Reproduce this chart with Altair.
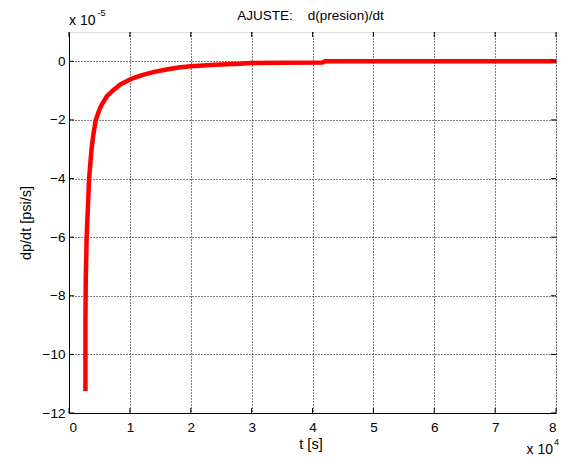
import altair as alt
import pandas as pd

# data in axis units: t in x10^4 s, dp/dt in x10^-5 psi/s
t_vals = [0.27, 0.27, 0.275, 0.28, 0.29, 0.31, 0.33, 0.37, 0.40, 0.44, 0.50, 0.54, 0.62, 0.72,
          0.85, 1.0, 1.2, 1.4, 1.6, 1.8, 2.0, 2.4, 2.8, 3.0, 3.5, 4.17, 4.2, 5.0, 6.0, 7.0, 8.0]
dp_vals = [-11.25, -9.0, -7.5, -7.0, -6.0, -5.0, -4.0, -3.0, -2.5, -2.0, -1.65, -1.47, -1.2, -1.0,
           -0.78, -0.62, -0.47, -0.36, -0.28, -0.21, -0.17, -0.12, -0.08, -0.06, -0.045, -0.04, 0.0, 0.0, 0.0, 0.0, 0.0]
x_ticks = [0, 1, 2, 3, 4, 5, 6, 7, 8]
y_ticks = [-12, -10, -8, -6, -4, -2, 0]

W, H = 487, 381
FONT = "Liberation Sans"

df = pd.DataFrame({"t": t_vals, "dp": dp_vals, "i": list(range(len(t_vals)))})
xs = alt.Scale(domain=[0, 8], nice=False, zero=False)
ys = alt.Scale(domain=[-12, 1], nice=False, zero=False)

common_axis = dict(grid=True, gridDash=[1, 2], gridColor="#000000", gridOpacity=1, gridWidth=1,
                   ticks=False, labelFontSize=13.5, labelFont=FONT, labelColor="#000000",
                   domainColor="#000000", title=None, format="d")

line = alt.Chart(df).mark_line(color="#ff0000", strokeWidth=4.5, strokeJoin="round").encode(
    x=alt.X("t:Q", scale=xs, axis=alt.Axis(values=x_ticks, labelPadding=7, **common_axis)),
    y=alt.Y("dp:Q", scale=ys, axis=alt.Axis(values=y_ticks, labelPadding=4, **common_axis)),
    order="i:Q",
)

xt = pd.DataFrame({"v": x_ticks})
yt = pd.DataFrame({"v": y_ticks})
tick_style = dict(color="#000000", strokeWidth=1)
xb = alt.Chart(xt).mark_rule(**tick_style).encode(x=alt.X("v:Q", scale=xs), y=alt.value(H), y2=alt.value(H - 5))
xtop = alt.Chart(xt).mark_rule(**tick_style).encode(x=alt.X("v:Q", scale=xs), y=alt.value(0), y2=alt.value(5))
yl = alt.Chart(yt).mark_rule(**tick_style).encode(y=alt.Y("v:Q", scale=ys), x=alt.value(0), x2=alt.value(5))
yr = alt.Chart(yt).mark_rule(**tick_style).encode(y=alt.Y("v:Q", scale=ys), x=alt.value(W), x2=alt.value(W - 5))

def txt(s, x, y, size=13, align="left", angle=0, baseline="alphabetic"):
    return alt.Chart(pd.DataFrame({"s": [s]})).mark_text(
        font=FONT, fontSize=size, align=align, baseline=baseline, color="#000000", angle=angle
    ).encode(text="s:N", x=alt.value(x), y=alt.value(y))

title = txt("AJUSTE:\u00a0\u00a0\u00a0\u00a0d(presion)/dt", 241.5, -12.5, size=13.5, align="center")
xtitle = txt("t [s]", 242, 417, size=14.5, align="center")
ytitle = txt("dp/dt [psi/s]", -42, 191, size=14.5, align="center", angle=270, baseline="middle")
m1 = txt("x 10", 0, -6.7, size=14)
m1s = txt("-5", 28.5, -16.5, size=9)
m2 = txt("x 10", 457.5, 421.5, size=14)
m2s = txt("4", 485, 413, size=9)

chart = alt.layer(line, xb, xtop, yl, yr, title, xtitle, ytitle, m1, m1s, m2, m2s).properties(
    width=W, height=H,
    autosize=alt.AutoSizeParams(type="none"),
    padding={"left": 61, "top": 24, "right": 6, "bottom": 49},
).configure_view(stroke="#000000", strokeWidth=1).configure(background="white")

chart.save("out.html", embed_options={"renderer": "svg", "actions": False})
